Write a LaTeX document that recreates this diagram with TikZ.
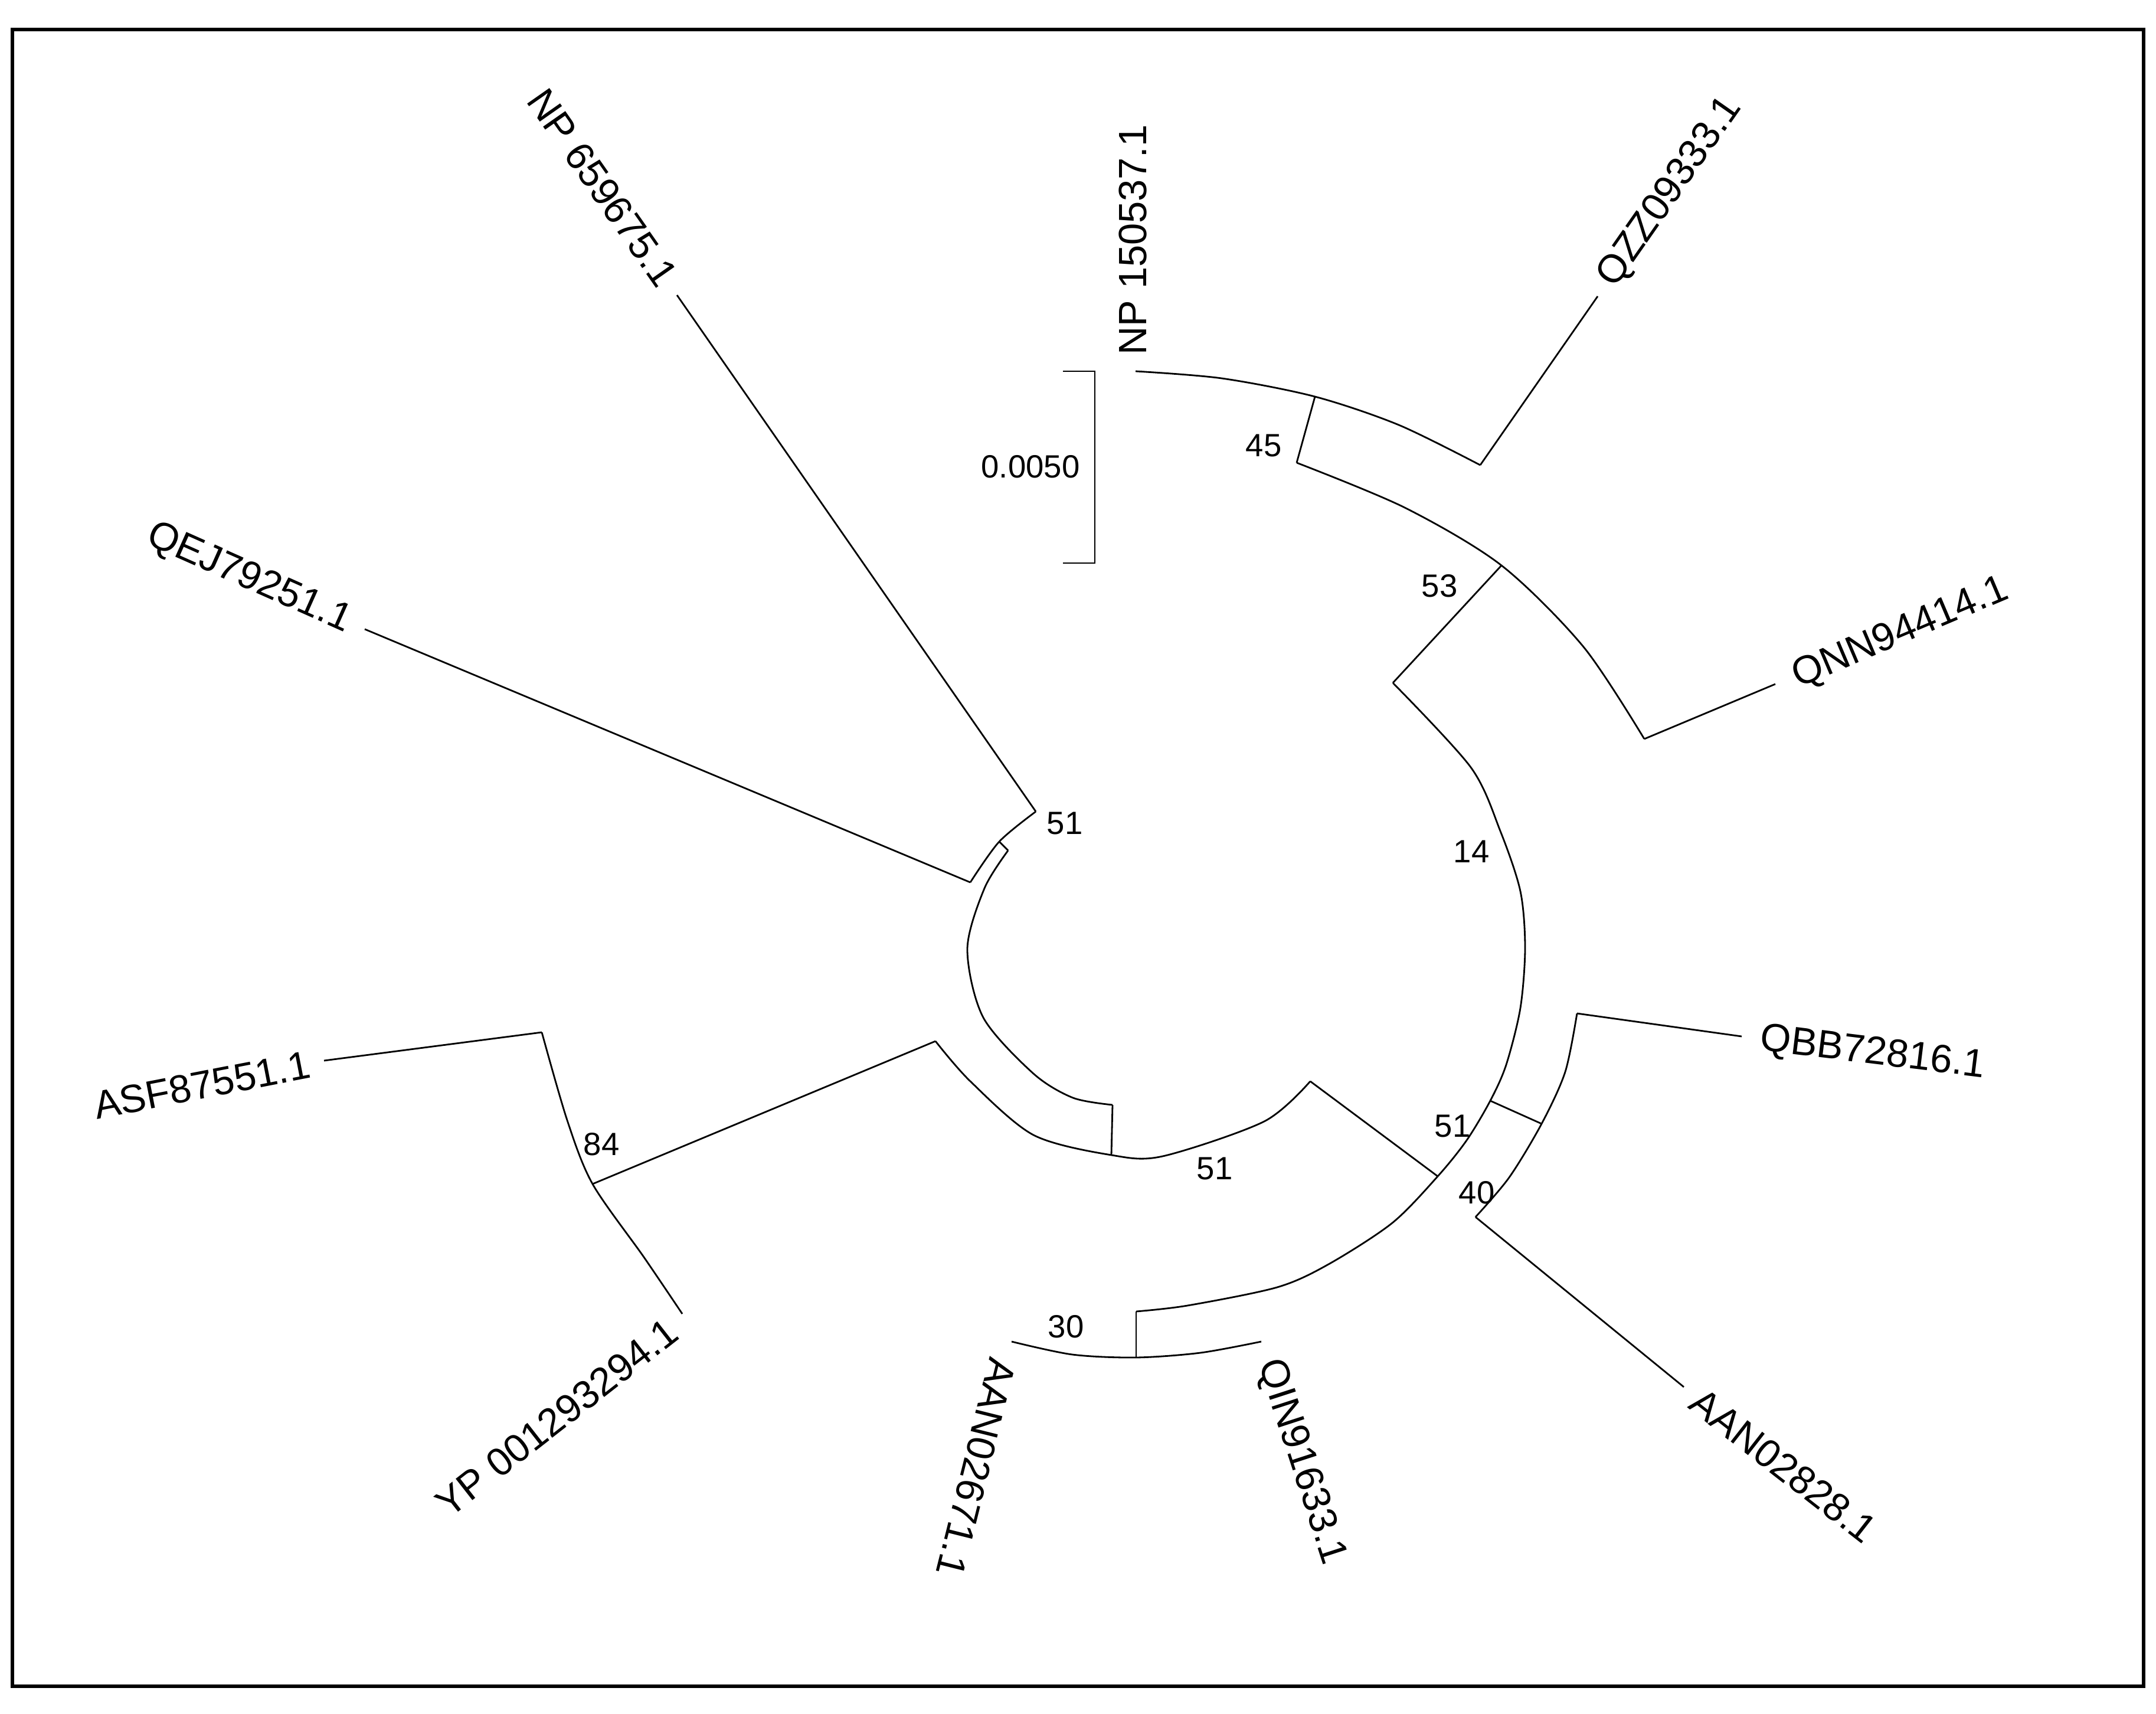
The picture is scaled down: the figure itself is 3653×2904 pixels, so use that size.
\documentclass[tikz,border=0pt]{standalone}
\usepackage{fontspec}
\setmainfont{Liberation Sans}
\begin{document}
\begin{tikzpicture}[x=0.01cm,y=-0.01cm]
% Styles
\tikzstyle{cadre}=[line width=1.8pt]
\tikzstyle{branche}=[line width=0.8pt,line join=miter]
\tikzstyle{feuille}=[inner sep=0pt,font=\fontsize{19}{19}\selectfont]
\tikzstyle{support}=[inner sep=0pt,font=\fontsize{15.5}{16}\selectfont]
\useasboundingbox (0,0) rectangle (3653,2904);
% Encadrement
\draw[cadre] (21,50) rectangle (3632,2857);
% Echelle
\coordinate (e1) at (1801,629);
\coordinate (e2) at (1801,954);
\draw[branche] (e1) -- ++(54,0) |- (e2);
\node[support] (echelle) at (1746,791) {0.0050};
% Points des noeuds
\coordinate (n45) at (2197,784);
\coordinate (n53) at (2360,1157);
\coordinate (n51d) at (2612,1904);
\coordinate (n40) at (2525,1865);
\coordinate (n30) at (1925,2222);
\coordinate (n51b) at (1885,1872);
\coordinate (n51h) at (1708,1441);
\coordinate (n84) at (1585,1764);
\coordinate (j1) at (2220,1832);
\coordinate (j2) at (2436,1993);
% Bases des feuilles
\coordinate (bNPa) at (1924,629);
\coordinate (bQZZ) at (2508,788);
\coordinate (bQNN) at (2786,1252);
\coordinate (bQBB) at (2672,1717);
\coordinate (bAANb) at (2500,2062);
\coordinate (bQIN) at (2137,2273);
\coordinate (bAANa) at (1714,2273);
\coordinate (bYP) at (1156,2226);
\coordinate (bASF) at (918,1749);
\coordinate (bQEJ) at (1644,1495);
\coordinate (bNPb) at (1755,1375);
% Etiquettes des feuilles
\node[feuille,anchor=west,rotate=90] (NPa) at (1919,602) {NP 150537.1};
\node[feuille,anchor=west,rotate=55] (QZZ) at (2722,480) {QZZ09333.1};
\node[feuille,anchor=west,rotate=23] (QNN) at (3040,1150) {QNN94414.1};
\node[feuille,anchor=west,rotate=-7] (QBB) at (2982,1762) {QBB72816.1};
\node[feuille,anchor=west,rotate=-38] (AANb) at (2872,2366) {AAN02828.1};
\node[feuille,anchor=west,rotate=-72] (QIN) at (2148,2305) {QIN91633.1};
\node[feuille,anchor=west,rotate=-104] (AANa) at (1700,2302) {AAN02671.1};
\node[feuille,anchor=east,rotate=38] (YP) at (1140,2248) {YP 001293294.1};
\node[feuille,anchor=east,rotate=11] (ASF) at (525,1803) {ASF87551.1};
\node[feuille,anchor=east,rotate=-24] (QEJ) at (592,1056) {QEJ79251.1};
\node[feuille,anchor=east,rotate=-55] (NPb) at (1133,478) {NP 659675.1};
% Branches terminales
\draw[branche] (bQZZ) -- (2707,502);
\draw[branche] (bQNN) -- (3008,1159);
\draw[branche] (bQBB) -- (2951,1756);
\draw[branche] (bAANb) -- (2853,2350);
\draw[branche] (bASF) -- (549,1797);
\draw[branche] (bQEJ) -- (618,1066);
\draw[branche] (bNPb) -- (1147,500);
% Arcs
\draw[branche] plot[smooth] coordinates {(bNPa) (2070,641) (2228,672) (2370,720) (bQZZ)};
\draw[branche] (2228,672) -- (n45);
\draw[branche] plot[smooth] coordinates {(n45) (2380,860) (2544,958) (2683,1096) (bQNN)};
\draw[branche] (2544,958) -- (n53);
\draw[branche] plot[smooth] coordinates {(n53) (2492,1300) (2542,1408) (2576,1510) (2584,1606) (2576,1708) (2552,1804) (n40) (2485,1932) (j2) (2359,2072) (2251,2142) (2164,2181) (2012,2212) (n30)};
\draw[branche] (n40) -- (n51d);
\draw[branche] plot[smooth] coordinates {(bQBB) (2652,1816) (n51d) (2557,1995) (bAANb)};
\draw[branche] (j1) -- (j2);
\draw[branche] plot[smooth] coordinates {(n84) (1644,1832) (1751,1923) (1883,1957) (1970,1959) (2142,1900) (j1)};
\draw[branche] (1883,1957) -- (n51b);
\draw[branche] plot[smooth] coordinates {(n51h) (1668,1505) (1639,1608) (1666,1724) (1751,1819) (1818,1860) (n51b)};
\draw[branche] plot[smooth] coordinates {(bNPb) (1693,1426) (bQEJ)};
\draw[branche] (1693,1426) -- (n51h);
\draw[branche] (n84) -- (1004,2006);
\draw[branche] plot[smooth] coordinates {(bASF) (961,1898) (1004,2006) (1091,2130) (bYP)};
\draw[branche] (n30) -- (1925,2300);
\draw[branche] plot[smooth] coordinates {(bAANa) (1817,2295) (1925,2300) (2034,2292) (bQIN)};
% Valeurs de bootstrap
\node[support] (b45) at (2141,755) {45};
\node[support] (b53) at (2439,993) {53};
\node[support] (b14) at (2493,1443) {14};
\node[support] (b51h) at (1804,1395) {51};
\node[support] (b51b) at (2058,1980) {51};
\node[support] (b51d) at (2461,1908) {51};
\node[support] (b40) at (2502,2021) {40};
\node[support] (b30) at (1806,2248) {30};
\node[support] (b84) at (1019,1939) {84};
\end{tikzpicture}
\end{document}
